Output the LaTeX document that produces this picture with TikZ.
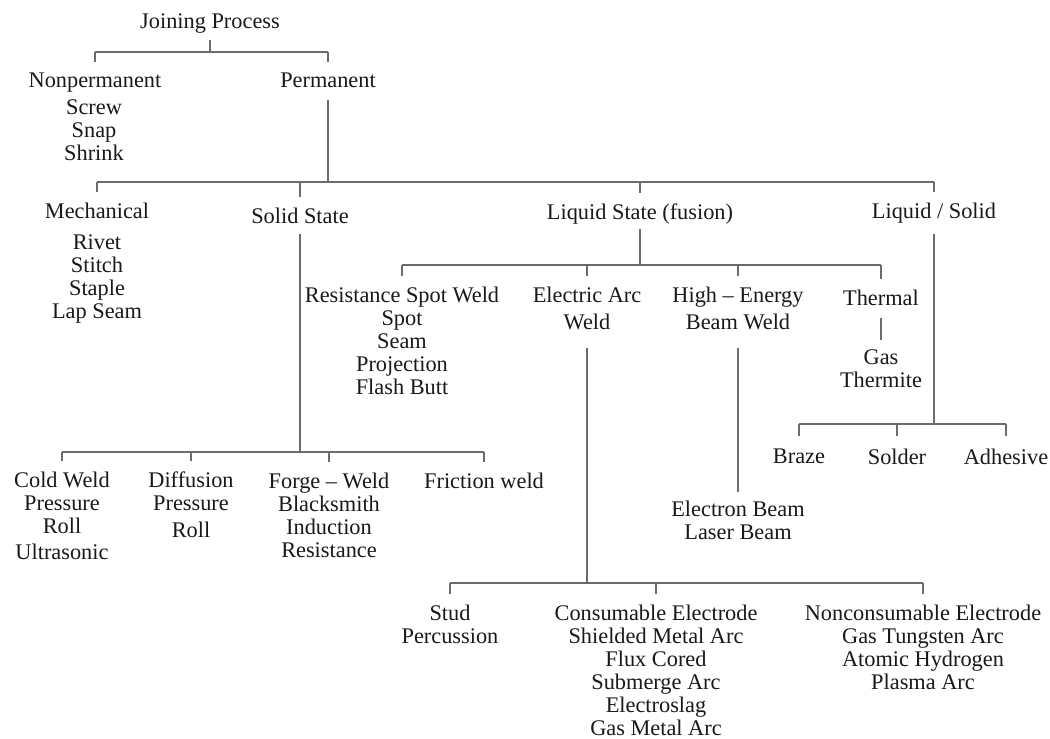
\documentclass[tikz,border=0pt]{standalone}
\usepackage{fontspec}
\setmainfont{Liberation Serif}

\definecolor{linegray}{gray}{0.42}
\definecolor{textgray}{gray}{0.1}

\begin{document}
\begin{tikzpicture}[x=0.75pt, y=-0.75pt,
  every node/.style={anchor=north, align=center, inner sep=3pt, text=textgray,
    font=\fontsize{16.75}{17.25}\selectfont},
  branch/.style={draw=linegray, line width=0.9pt},
  drop/.style={branch, shorten >=#1}, drop/.default=5pt,
  stem/.style={branch, shorten <=#1}, stem/.default=2pt]
  \useasboundingbox[fill=white] (0,0) rectangle (1050,739);

  % Joining process
  \node (jp) at (210,9) {Joining Process};
  \node (nonperm) at (95,69) {Nonpermanent};
  \node (nplist) at (94,95) {Screw\\Snap\\Shrink};
  \node (perm) at (328,69) {Permanent};
  \coordinate (bar1) at (210,52);
  \draw[stem] (jp) -- (bar1);
  \draw[branch] (nonperm |- bar1) -- (perm |- bar1);
  \foreach \n in {nonperm,perm} \draw[drop] (\n |- bar1) -- (\n);

  % Permanent
  \node (mech) at (97,199) {Mechanical};
  \node (mechlist) at (97,230) {Rivet\\Stitch\\Staple\\Lap Seam};
  \node (solid) at (300,204) {Solid State};
  \node (liquid) at (640,200) {Liquid State (fusion)};
  \node (liqsol) at (934,199) {Liquid / Solid};
  \coordinate (bar2) at (328,182);
  \draw[stem=6pt] (perm) -- (bar2);
  \draw[branch] (mech |- bar2) -- (liqsol |- bar2);
  \foreach \n in {mech,solid,liquid,liqsol} \draw[drop] (\n |- bar2) -- (\n);

  % Liquid state (fusion)
  \node (rsw) at (402,283) {Resistance Spot Weld\\Spot\\Seam\\Projection\\Flash Butt};
  \node (arc) at (587,283) {Electric Arc\\[3pt]Weld};
  \node (beam) at (738,283) {High – Energy\\[3pt]Beam Weld};
  \node (thermal) at (881,286) {Thermal};
  \node (thlist) at (881,345) {Gas\\Thermite};
  \node (ebeam) at (738,497) {Electron Beam\\Laser Beam};
  \coordinate (bar3) at (640,265);
  \draw[stem=0pt] (liquid) -- (bar3);
  \draw[branch] (rsw |- bar3) -- (thermal |- bar3);
  \foreach \n in {rsw,arc,beam,thermal} \draw[drop] (\n |- bar3) -- (\n);
  \draw[stem=6pt, shorten >=4pt] (thermal) -- (thlist);
  \draw[stem=10pt, shorten >=4pt] (beam) -- (ebeam);

  % Solid state
  \node (coldweld) at (62,468) {Cold Weld\\Pressure\\Roll\\[2pt]Ultrasonic};
  \node (diffusion) at (191,468) {Diffusion\\Pressure\\[3pt]Roll};
  \node (forge) at (329,469) {Forge – Weld\\Blacksmith\\Induction\\Resistance};
  \node (friction) at (484,469) {Friction weld};
  \coordinate (bar6) at (300,452);
  \draw[stem=4pt] (solid) -- (bar6);
  \draw[branch] (coldweld |- bar6) -- (friction |- bar6);
  \foreach \n in {coldweld,diffusion,forge,friction} \draw[drop] (\n |- bar6) -- (\n);

  % Liquid / Solid
  \node (braze) at (799,445) {Braze};
  \node (solder) at (897,445) {Solder};
  \node (adhesive) at (1006,445) {Adhesive};
  \coordinate (bar5) at (934,424);
  \draw[stem=5pt] (liqsol) -- (bar5);
  \draw[branch] (braze |- bar5) -- (adhesive |- bar5);
  \foreach \n in {braze,solder,adhesive} \draw[drop=7pt] (\n |- bar5) -- (\n);

  % Electric arc weld
  \node (stud) at (450,601) {Stud\\Percussion};
  \node (consum) at (656,601) {Consumable Electrode\\Shielded Metal Arc\\Flux Cored\\Submerge Arc\\Electroslag\\Gas Metal Arc};
  \node (noncons) at (923,601) {Nonconsumable Electrode\\Gas Tungsten Arc\\Atomic Hydrogen\\Plasma Arc};
  \coordinate (bar4) at (587,583);
  \draw[stem=10pt] (arc) -- (bar4);
  \draw[branch] (stud |- bar4) -- (noncons |- bar4);
  \foreach \n in {stud,consum,noncons} \draw[drop] (\n |- bar4) -- (\n);
\end{tikzpicture}
\end{document}
